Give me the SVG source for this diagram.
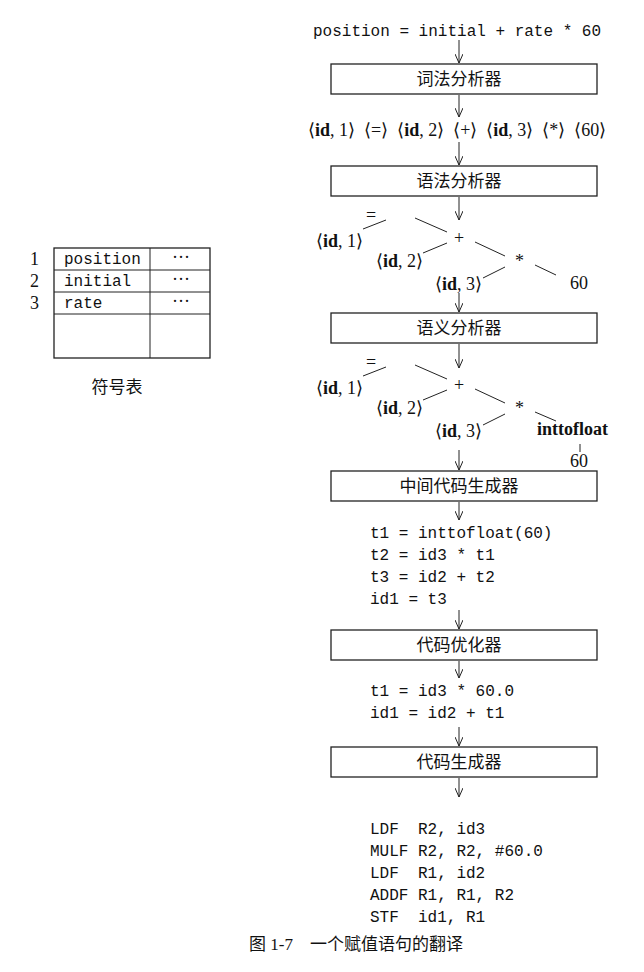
<svg xmlns="http://www.w3.org/2000/svg" width="644" height="972" viewBox="0 0 644 972">
<style>
.m{font-family:"Liberation Mono",monospace;font-size:16px;fill:#111;white-space:pre}
.s{font-family:"Liberation Serif",serif;font-size:18px;fill:#111}
.b{font-family:"Liberation Serif",serif;font-size:18px;font-weight:bold;fill:#111}
.c{font-family:"Liberation Serif","Noto Sans CJK SC",serif;font-size:17px;fill:#111;text-anchor:middle}
.box{fill:#fff;stroke:#222;stroke-width:1.3}
.ln{stroke:#222;stroke-width:1;fill:none}
</style>
<defs><marker id="a" markerWidth="10" markerHeight="8" refX="9" refY="4" orient="auto" markerUnits="userSpaceOnUse"><path d="M0,0 L9,4 L0,8" fill="none" stroke="#222"/></marker></defs>
<rect width="644" height="972" fill="#fff"/>
<g id="connectors" class="ln">
<line x1="459" y1="40" x2="459" y2="63" marker-end="url(#a)"/>
<line x1="459" y1="95" x2="459" y2="117" marker-end="url(#a)"/>
<line x1="459" y1="142" x2="459" y2="165" marker-end="url(#a)"/>
<line x1="459" y1="197" x2="459" y2="220" marker-end="url(#a)"/>
<line x1="459" y1="293" x2="459" y2="312" marker-end="url(#a)"/>
<line x1="459" y1="344" x2="459" y2="368" marker-end="url(#a)"/>
<line x1="459" y1="450" x2="459" y2="470" marker-end="url(#a)"/>
<line x1="459" y1="502" x2="459" y2="520" marker-end="url(#a)"/>
<line x1="459" y1="610" x2="459" y2="629" marker-end="url(#a)"/>
<line x1="459" y1="661" x2="459" y2="678" marker-end="url(#a)"/>
<line x1="459" y1="727" x2="459" y2="746" marker-end="url(#a)"/>
<line x1="459" y1="778" x2="459" y2="797" marker-end="url(#a)"/>
<path d="M363,229 L386,220 M415,218 L447,232 M423,253 L447,243 M475,242 L505,256 M483,278 L505,267 M535,265 L556,275"/>
<path d="M363,376 L386,367 M415,365 L447,379 M423,400 L447,390 M475,389 L505,403 M483,425 L505,414 M535,412 L556,421 M580,444 L580,452"/>
</g>
<text class="m" x="313" y="36">position = initial + rate * 60</text>
<g id="lex"><rect class="box" x="331" y="64" width="266" height="30"/><text class="c" x="459" y="85">词法分析器</text></g>
<text class="s" x="308" y="136" xml:space="preserve">⟨<tspan class="b">id</tspan>, 1⟩  ⟨=⟩  ⟨<tspan class="b">id</tspan>, 2⟩  ⟨+⟩  ⟨<tspan class="b">id</tspan>, 3⟩  ⟨*⟩  ⟨60⟩</text>
<g id="syn"><rect class="box" x="331" y="166" width="266" height="30"/><text class="c" x="459" y="187">语法分析器</text></g>
<g id="tree1" class="s">
<text x="366" y="221">=</text>
<text x="316" y="247">⟨<tspan class="b">id</tspan>, 1⟩</text>
<text x="454" y="244">+</text>
<text x="376" y="267">⟨<tspan class="b">id</tspan>, 2⟩</text>
<text x="515" y="267">*</text>
<text x="435" y="290">⟨<tspan class="b">id</tspan>, 3⟩</text>
<text x="570" y="289">60</text>
</g>
<g id="sem"><rect class="box" x="331" y="313" width="266" height="30"/><text class="c" x="459" y="334">语义分析器</text></g>
<g id="tree2" class="s">
<text x="366" y="368">=</text>
<text x="316" y="394">⟨<tspan class="b">id</tspan>, 1⟩</text>
<text x="454" y="391">+</text>
<text x="376" y="414">⟨<tspan class="b">id</tspan>, 2⟩</text>
<text x="515" y="414">*</text>
<text x="435" y="437">⟨<tspan class="b">id</tspan>, 3⟩</text>
<text class="b" x="537" y="435">inttofloat</text>
<text x="570" y="467">60</text>
</g>
<g id="icg"><rect class="box" x="331" y="471" width="266" height="30"/><text class="c" x="459" y="492">中间代码生成器</text></g>
<g class="m"><text x="370" y="538">t1 = inttofloat(60)</text><text x="370" y="560">t2 = id3 * t1</text><text x="370" y="582">t3 = id2 + t2</text><text x="370" y="604">id1 = t3</text></g>
<g id="opt"><rect class="box" x="331" y="630" width="266" height="30"/><text class="c" x="459" y="651">代码优化器</text></g>
<g class="m"><text x="370" y="696">t1 = id3 * 60.0</text><text x="370" y="718">id1 = id2 + t1</text></g>
<g id="gen"><rect class="box" x="331" y="747" width="266" height="30"/><text class="c" x="459" y="768">代码生成器</text></g>
<g class="m"><text x="370" y="834" xml:space="preserve">LDF  R2, id3</text><text x="370" y="856">MULF R2, R2, #60.0</text><text x="370" y="878" xml:space="preserve">LDF  R1, id2</text><text x="370" y="900">ADDF R1, R1, R2</text><text x="370" y="922" xml:space="preserve">STF  id1, R1</text></g>
<g id="symtab">
<rect class="box" x="54" y="248" width="156" height="110"/>
<path class="ln" d="M54,270 H210 M54,292 H210 M54,314 H210 M150,248 V358"/>
<text class="m" x="64" y="264">position</text><text class="m" x="64" y="286">initial</text><text class="m" x="64" y="308">rate</text>
<text class="s" x="172" y="263">···</text><text class="s" x="172" y="285">···</text><text class="s" x="172" y="307">···</text>
<text class="s" x="30" y="265">1</text><text class="s" x="30" y="287">2</text><text class="s" x="30" y="309">3</text>
<text class="c" x="117" y="393">符号表</text>
</g>
<text class="c" x="356" y="950" xml:space="preserve">图 1-7    一个赋值语句的翻译</text>
</svg>
